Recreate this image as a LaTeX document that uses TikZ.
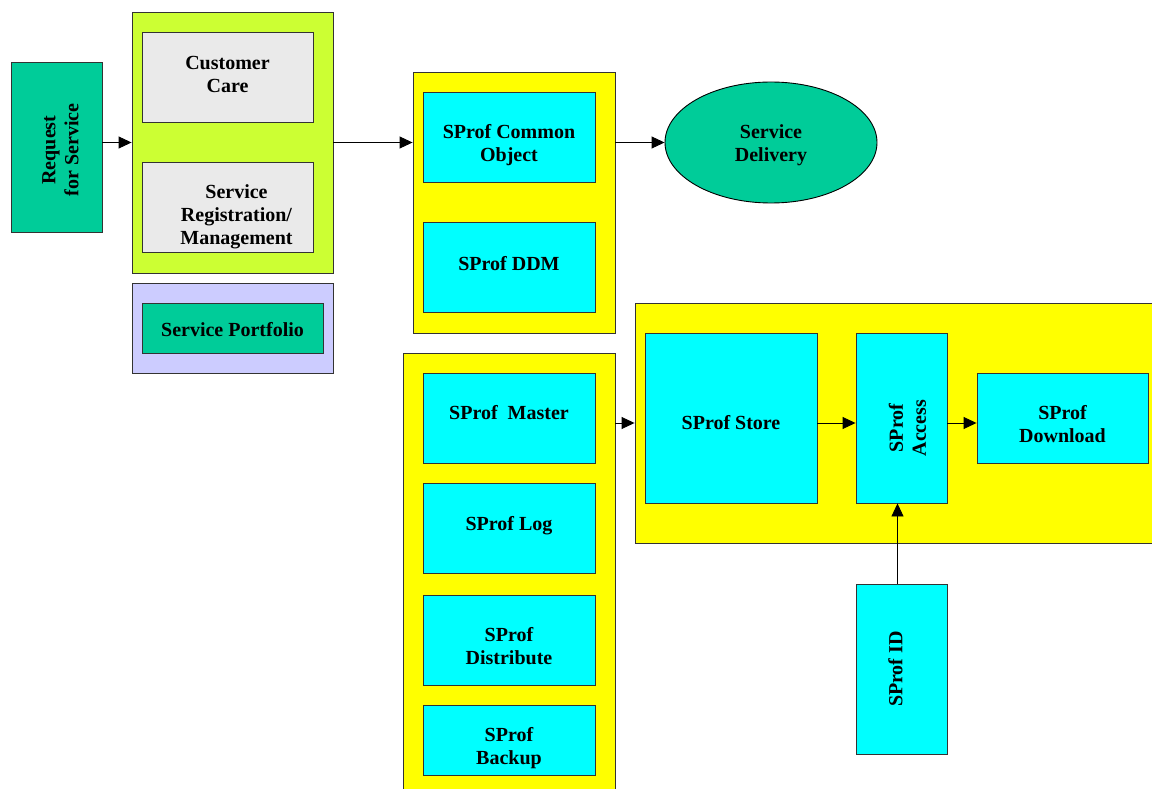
\documentclass[tikz,border=0pt]{standalone}
\usepackage{fontspec}
\setmainfont{Liberation Serif}
\usetikzlibrary{arrows.meta,shapes.geometric}
\definecolor{teal}{RGB}{0,204,153}
\definecolor{lime}{RGB}{204,255,51}
\definecolor{paleGray}{RGB}{234,234,234}
\definecolor{lavender}{RGB}{204,204,255}
\definecolor{brightYellow}{RGB}{255,255,0}
\definecolor{brightCyan}{RGB}{0,255,255}
\tikzset{
        every node/.style={font=\bfseries\fontsize{20}{23}\selectfont, align=center},
        box/.style={rectangle, draw=black!80, line width=0.9pt, inner sep=0pt},
        group/.style={box, fill=brightYellow},
        limegroup/.style={box, fill=lime},
        lavgroup/.style={box, fill=lavender},
        greybox/.style={box, fill=paleGray, minimum width=171, minimum height=90},
        greenbox/.style={box, fill=teal},
        cyanbox/.style={box, fill=brightCyan, minimum width=172, minimum height=90},
        tallbox/.style={box, fill=brightCyan, minimum width=91, minimum height=170},
        upright/.style={rotate=90, align=center},
        conn/.style={black, line width=0.9pt, -{Triangle[length=13pt,width=12pt]}}
          }
\begin{document}
\begin{tikzpicture}[x=1pt, y=-1pt]
        \useasboundingbox (0,0) rectangle (1152,789);
        \node[greenbox, minimum width=91, minimum height=170,
          label={[xshift=4pt, yshift=-3pt, upright]center:Request\\for Service}] (request) at (56.5,147) {};
        \node[limegroup, minimum width=201, minimum height=261] (front) at (232.5,142.5) {};
        \node[greybox, label={[yshift=3pt]center:Customer\\Care}] (care) at (227.5,77) {};
        \node[greybox, label={[xshift=9pt, yshift=-10pt]center:Service\\Registration/\\Management}] (registration) at (227.5,207) {};
        \node[lavgroup, minimum width=201, minimum height=90] (portfoliogroup) at (232.5,328) {};
        \node[greenbox, minimum width=181, minimum height=50,
          label={[yshift=-2pt]center:Service Portfolio}] (portfolio) at (232.5,328) {};
        \node[group, minimum width=202, minimum height=261] (objects) at (514,202.5) {};
        \node[cyanbox, label={[yshift=-8pt]center:SProf Common\\Object}] (common) at (509,137) {};
        \node[cyanbox, label={[yshift=3pt]center:SProf DDM}] (ddm) at (509,267) {};
        \node[ellipse, draw=black, line width=0.9pt, fill=teal, minimum width=212, minimum height=121,
          inner sep=0pt, label={[yshift=-3pt]center:Service\\Delivery}] (delivery) at (771,142.5) {};
        \node[group, minimum width=212, minimum height=447] (manage) at (509,576.5) {};
        \node[cyanbox, label={[yshift=5pt]center:SProf~~Master}] (master) at (509,418) {};
        \node[cyanbox, label={[yshift=2pt]center:SProf Log}] (log) at (509,528) {};
        \node[cyanbox, label={[yshift=-6pt]center:SProf\\Distribute}] (distribute) at (509,640) {};
        \node[cyanbox, minimum height=70, label={[yshift=-8pt]center:SProf\\Backup}] (backup) at (509,740) {};
        \node[group, minimum width=525, minimum height=240] (storage) at (897.5,423) {};
        \node[cyanbox, minimum height=170, label={[yshift=-5pt]center:SProf Store}] (store) at (731,418) {};
        \node[tallbox, label={[xshift=6pt, yshift=-10pt, upright]center:SProf\\Access}] (access) at (901.5,418) {};
        \node[cyanbox, minimum width=171, label={[yshift=-6pt]center:SProf\\Download}] (download) at (1062.5,418) {};
        \node[tallbox, label={[xshift=-6pt, upright]center:SProf ID}] (id) at (901.5,669) {};

        \draw[conn] (request.east |- front.west) -- (front.west);
        \draw[conn] (front.east) -- (front.east -| objects.west);
        \draw[conn] (objects.east |- delivery.west) -- (delivery.west);
        \draw[conn] (manage.east |- storage.west) -- (storage.west);
        \draw[conn] (store.east |- storage.west) -- (access.west |- storage.west);
        \draw[conn] (access.east |- storage.west) -- (download.west |- storage.west);
        \draw[conn] ([xshift=-4pt]id.north) -- ([xshift=-4pt]access.south);
      \end{tikzpicture}
\end{document}
